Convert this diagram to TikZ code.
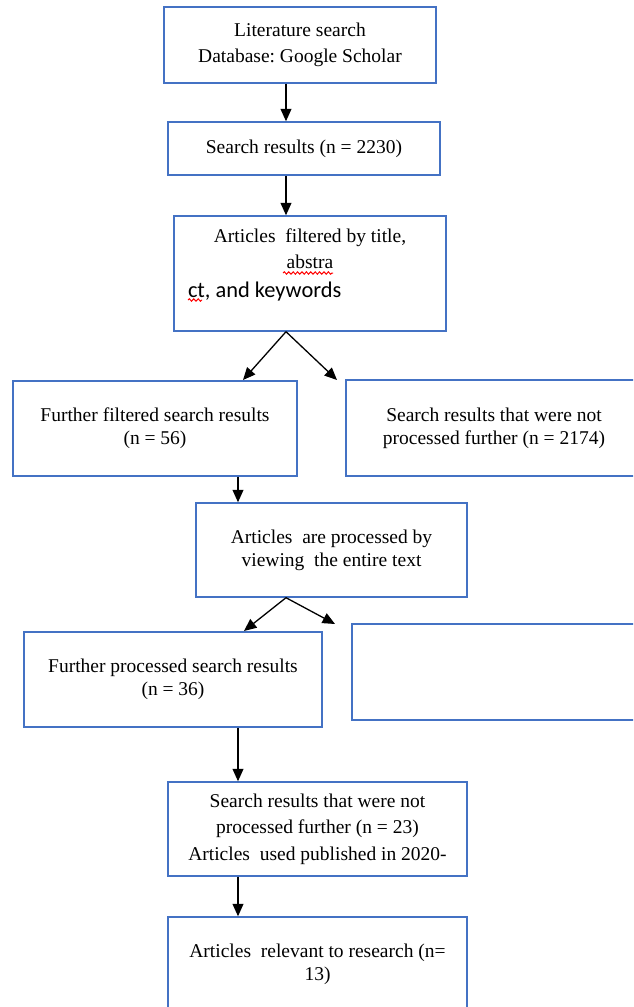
\documentclass[tikz,border=0pt]{standalone}
\usepackage{fontspec}
\setmainfont{Liberation Serif}
\newfontfamily\calibrifont{Carlito}
\usepackage{tikz}
\usetikzlibrary{arrows.meta, decorations.pathmorphing}
\definecolor{boxblue}{HTML}{4472C4}
\frenchspacing
\tikzset{pbox/.style={draw=boxblue, line width=0.7pt, align=center, inner sep=0pt, font=\fontsize{9.75}{11.5}\selectfont}}
\tikzset{arr/.style={draw, line width=0.65pt, -{Triangle[length=6.2pt,width=5.4pt]}}}
\tikzset{squiggle/.style={draw=red, line width=0.5pt, decorate, decoration={snake, amplitude=0.6pt, segment length=2.2pt}}}
\begin{document}
\begin{tikzpicture}[x=0.5pt,y=-0.5pt]
\useasboundingbox (0,0) rectangle (633,1007);
\fill[white] (0,0) rectangle (633,1007);
\clip (0,0) rectangle (633,1007);
\coordinate (colA) at (286,0);
\coordinate (colB) at (238,0);
\begin{scope}[every node/.style={pbox}]
	\node[minimum width=136pt, minimum height=38pt, font=\fontsize{9.75}{13}\selectfont] at (300, 45) (lit) {Literature search\\
		Database: Google Scholar};
	\node[minimum width=136pt, minimum height=26.5pt] at (304, 148.5) (res) {Search results (n = 2230)};
	\node[minimum width=136pt, minimum height=57.5pt, font=\fontsize{9.75}{13}\selectfont] at (310, 273.5) (filt) {\parbox[c][57.5pt][t]{136pt}{\vspace*{6.3pt}\centering
		Articles\ \ filtered by title,\\ abstra\par
		\raggedright\vspace{1.5pt}\hspace*{7pt}{\calibrifont\fontsize{11.2}{13}\selectfont ct, and keywords}\par}};
	\node[minimum width=142pt, minimum height=47.5pt] at (155, 428.5) (further) {Further filtered search results\\
		(n = 56)};
	\node[minimum width=148pt, minimum height=48pt] at (494, 428) (notproc) {Search results that were not\\
		processed further (n = 2174)};
	\node[minimum width=135.5pt, minimum height=47pt] at (331.5, 550) (view) {Articles\ \ are processed by\\
		viewing\ \ the entire text};
	\node[minimum width=149pt, minimum height=47.5pt] at (173, 679.5) (proc) {Further processed search results\\
		(n = 36)};
	\node[minimum width=149pt, minimum height=48pt] at (501, 672) (empty) {};
	\node[minimum width=149.5pt, minimum height=47pt, font=\fontsize{9.75}{13.3}\selectfont] at (317.5, 829) (sel) {Search results that were not\\
		processed further (n = 23)\\
		Articles\ \ used published in 2020-};
	\node[minimum width=149.5pt, minimum height=47.5pt] at (317.5, 964.5) (rel) {Articles\ \ relevant to research (n=\\
		13)};
\end{scope}
% spelling marks
\draw[squiggle] (283, 273) -- (333, 273);
\draw[squiggle] (188, 300) -- (202, 300);
	\draw[arr] (lit.south -| colA) -- (res.north -| colA);
	\draw[arr] (res.south -| colA) -- (filt.north -| colA);
\coordinate (forkA) at (filt.south -| colA);
\coordinate (tipA) at (243, 380);
\coordinate (tipB) at (337, 380);
	\draw[arr] (forkA) -- (tipA);
	\draw[arr] (forkA) -- (tipB);
	\draw[arr] (further.south -| colB) -- (view.north -| colB);
\coordinate (forkB) at (view.south -| colA);
\coordinate (tipC) at (244, 631);
\coordinate (tipD) at (335, 624);
	\draw[arr] (forkB) -- (tipC);
	\draw[arr] (forkB) -- (tipD);
	\draw[arr] (proc.south -| colB) -- (sel.north -| colB);
	\draw[arr] (sel.south -| colB) -- (rel.north -| colB);
\end{tikzpicture}
\end{document}
